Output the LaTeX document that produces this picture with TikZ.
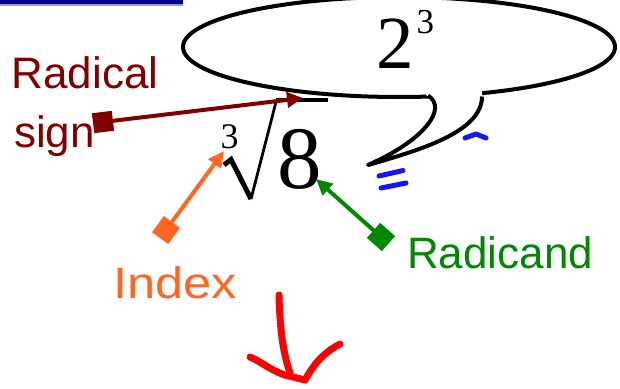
\documentclass[tikz,border=0pt]{standalone}
\usepackage{fontspec}
\setmainfont{Liberation Serif}
\newfontfamily\labfont{Liberation Sans}
\usetikzlibrary{arrows.meta,shapes.geometric}
\definecolor{darkred}{RGB}{128,0,0}
\definecolor{orng}{RGB}{255,102,34}
\definecolor{grn}{RGB}{0,136,0}
\definecolor{navy}{RGB}{0,0,140}
\definecolor{pen}{RGB}{20,20,255}
\tikzset{
  lbl/.style={inner sep=0pt, anchor=base west, font=\labfont\fontsize{44}{52}\selectfont},
  num/.style={inner sep=0pt, anchor=base west},
  sqr/.style={draw=none, minimum size=20pt, inner sep=0pt, shape=rectangle},
  pointer/.style={line width=4pt, -{Triangle[length=16pt,width=15pt]}},
  bubble/.style={line width=4pt, draw=black},
  redpen/.style={line width=7pt, red, line cap=round, line join=round},
  bluepen/.style={line width=5pt, pen, line cap=round, line join=round}
}
\begin{document}
\begin{tikzpicture}[x=1pt,y=-1pt]
\useasboundingbox (0,0) rectangle (620,388);
\fill[white] (0,0) rectangle (620,388);
% top bar
\fill[navy] (0,0) rectangle (183,4);
\fill[navy!40] (0,4) rectangle (183,5.5);
% speech bubble
\node[bubble, ellipse, minimum width=432pt, minimum height=100pt, inner sep=0pt] (bub) at (399,47) {};
\fill[white] (426,86) -- (426,95) .. controls (448,108) and (425,140) .. (368,165)
  .. controls (420,150) and (482,132) .. (482,97) -- (482,86) -- cycle;
\draw[line width=4pt, line join=round] (428,95.5) .. controls (448,108) and (425,140) .. (368,165)
  .. controls (420,150) and (482,132) .. (482,96.5);
\node[num, font=\fontsize{75}{80}\selectfont] (two) at (376,68) {2};
\node[num, font=\fontsize{35}{40}\selectfont] (exp) at (416.5,33) {3};
% blue pen strokes
\draw[bluepen] (379,176) -- (403,170.5);
\draw[bluepen] (381,188) -- (406,183);
\draw[bluepen] (465,138) -- (476,134) -- (486,138);
% radical
\node[num, font=\fontsize{36}{40}\selectfont] (idx) at (220.5,148) {3};
\node[num, font=\fontsize{89}{95}\selectfont] (eight) at (277.5,188) {8};
\draw[line width=5pt, line join=miter] (224,165) -- (231,159.5) -- (251,199);
\draw[line width=2.8pt] (251,199) -- (276.5,100);
\draw[line width=4pt] (275.5,100) -- (328,100);
% labels
\node[lbl, darkred] (rad1) at (11.5,88) {Radical};
\node[lbl, darkred] (rad2) at (14,147) {sign};
\node[lbl, orng] (ind) at (113,298) {\scalebox{1.15}[1]{Index}};
\node[lbl, grn] (rcd) at (407,268) {Radicand};
% pointers
\coordinate (rtip) at (303,98);
\coordinate (otip) at (224,151);
\coordinate (gtip) at (316,179);
\node[sqr, fill=darkred, rotate=6.9] (rsq) at (103,122) {};
\node[sqr, fill=orng, rotate=54] (osq) at (166,230) {};
\node[sqr, fill=grn, rotate=48.4] (gsq) at (381,237) {};
\draw[pointer, darkred] (rsq.center) -- (rtip);
\draw[pointer, orng] (osq.center) -- (otip);
\draw[pointer, grn] (gsq.center) -- (gtip);
% red hand-drawn arrow
\draw[redpen] (279,295) .. controls (280,335) and (284,355) .. (290,373);
\draw[redpen] (250,357) .. controls (262,362) and (270,370) .. (285,375) -- (305,380)
  .. controls (315,362) and (325,352) .. (340,344);
\end{tikzpicture}
\end{document}
